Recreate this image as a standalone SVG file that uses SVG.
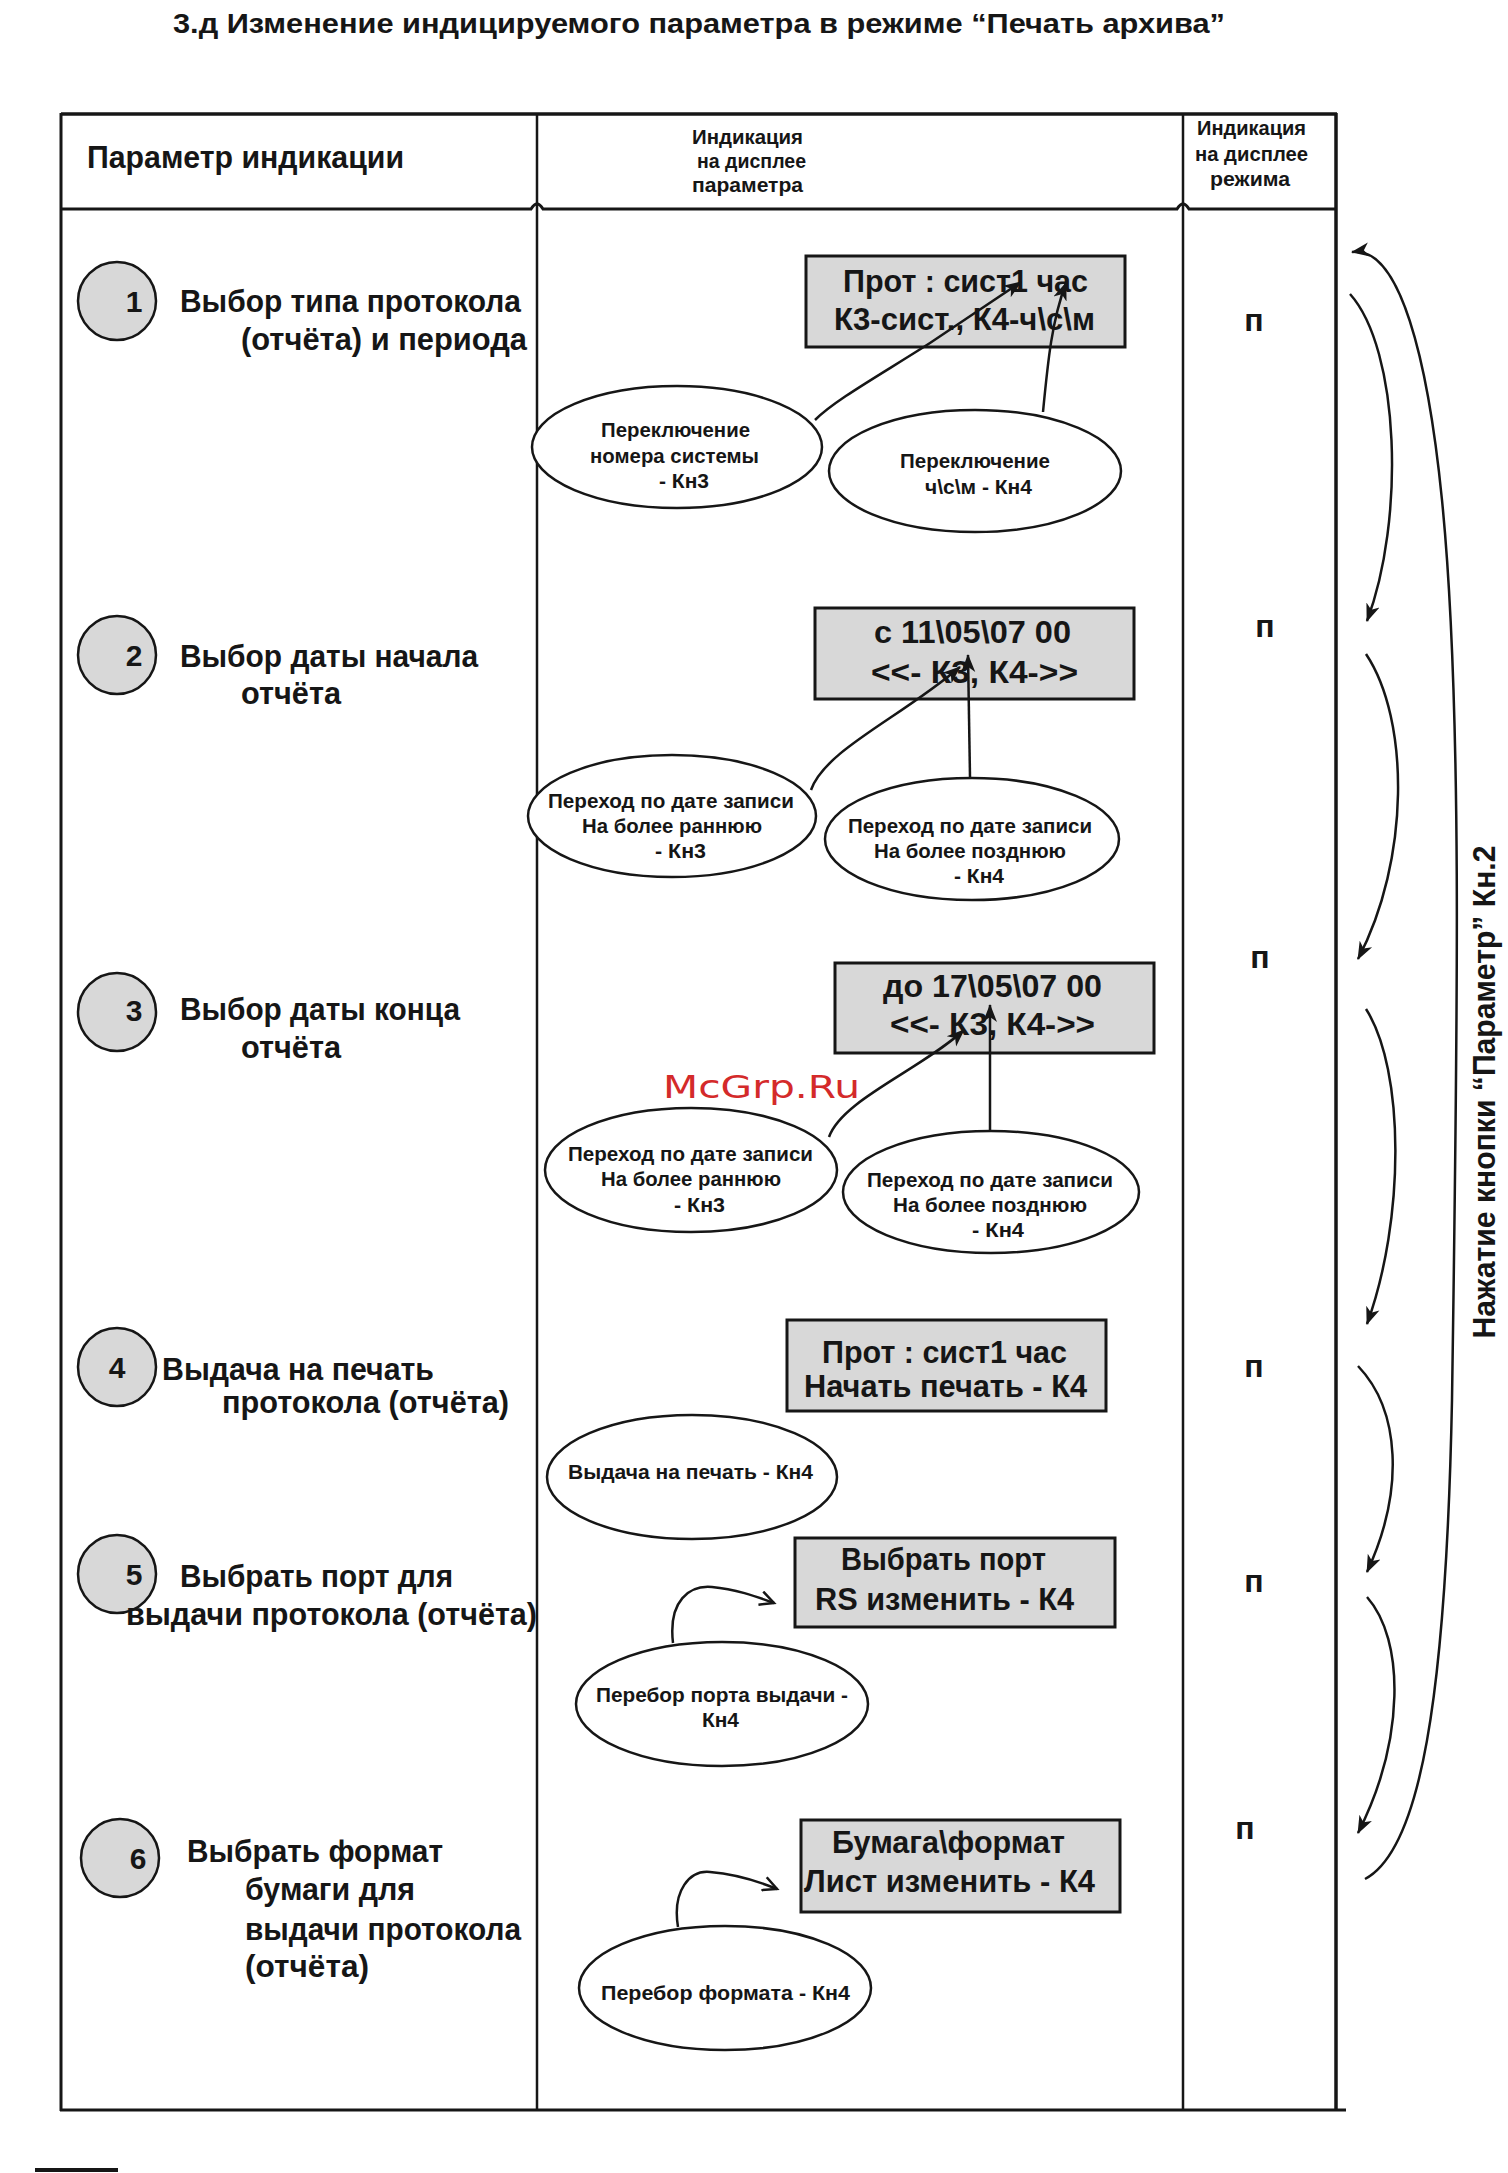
<svg xmlns="http://www.w3.org/2000/svg" width="1508" height="2173" viewBox="0 0 1508 2173">
<style>
.t{font-family:"Liberation Sans",Arial,sans-serif;fill:#161616;font-weight:bold}
.big{font-size:32px}
.hdr{font-size:21px}
.box{font-size:31px}
.ell{font-size:21px}
.num{font-size:30px}
.mode{font-size:32px}
.wm{font-family:"DejaVu Sans",sans-serif;font-size:32px;fill:#d42a2a}
.frame{stroke:#161616;fill:none}
.disp{fill:#d8d8d8;stroke:#161616;stroke-width:3}
.oval{fill:#fff;stroke:#161616;stroke-width:2.5}
.badge{fill:#d8d8d8;stroke:#161616;stroke-width:2.5}
.conn{fill:none;stroke:#161616;stroke-width:2.5}
</style>
<defs>
<marker id="ah" markerUnits="userSpaceOnUse" markerWidth="20" markerHeight="16" refX="17" refY="8" orient="auto"><path d="M0,1 L18,8 L0,15 L5,8 Z" fill="#161616"/></marker>
<marker id="av" markerUnits="userSpaceOnUse" markerWidth="18" markerHeight="16" refX="15" refY="8" orient="auto"><path d="M1,1 L15,8 L1,15" fill="none" stroke="#161616" stroke-width="2.5"/></marker>
</defs>
<rect width="1508" height="2173" fill="#fff"/>

<text class="t" x="173" y="33" style="font-size:27px" textLength="1052" lengthAdjust="spacingAndGlyphs">3.д  Изменение индицируемого параметра в режиме “Печать архива”</text>

<g id="table">
<line class="frame" x1="61" y1="114" x2="1337" y2="114" stroke-width="3.5"/>
<line class="frame" x1="61" y1="113" x2="61" y2="2111" stroke-width="3"/>
<line class="frame" x1="537" y1="114" x2="537" y2="2110" stroke-width="2.5"/>
<line class="frame" x1="1183" y1="114" x2="1183" y2="2110" stroke-width="2.5"/>
<line class="frame" x1="1336" y1="113" x2="1336" y2="2110" stroke-width="3.5"/>
<path class="frame" d="M61,209 H531 q6,-10 12,0 H1177 q6,-10 12,0 H1336" stroke-width="3"/>
<line class="frame" x1="60" y1="2110" x2="1346" y2="2110" stroke-width="3"/>
<text class="t big" x="87" y="168" textLength="317" lengthAdjust="spacingAndGlyphs">Параметр индикации</text>
<text class="t hdr" x="692" y="144" textLength="111" lengthAdjust="spacingAndGlyphs">Индикация</text>
<text class="t hdr" x="697" y="168" textLength="109" lengthAdjust="spacingAndGlyphs">на дисплее</text>
<text class="t hdr" x="692" y="192" textLength="111" lengthAdjust="spacingAndGlyphs">параметра</text>
<text class="t hdr" x="1197" y="135" textLength="109" lengthAdjust="spacingAndGlyphs">Индикация</text>
<text class="t hdr" x="1195" y="161" textLength="113" lengthAdjust="spacingAndGlyphs">на дисплее</text>
<text class="t hdr" x="1210" y="186" textLength="80" lengthAdjust="spacingAndGlyphs">режима</text>
</g>

<g id="param1">
<circle class="badge" cx="117" cy="301" r="39"/>
<text class="t num" x="134" y="312" text-anchor="middle">1</text>
<text class="t big" x="180" y="312" textLength="341" lengthAdjust="spacingAndGlyphs">Выбор типа протокола</text>
<text class="t big" x="241" y="350" textLength="286" lengthAdjust="spacingAndGlyphs">(отчёта) и периода</text>
</g>
<g id="param2">
<circle class="badge" cx="117" cy="655" r="39"/>
<text class="t num" x="134" y="666" text-anchor="middle">2</text>
<text class="t big" x="180" y="667" textLength="298" lengthAdjust="spacingAndGlyphs">Выбор даты начала</text>
<text class="t big" x="241" y="704" textLength="100" lengthAdjust="spacingAndGlyphs">отчёта</text>
</g>
<g id="param3">
<circle class="badge" cx="117" cy="1012" r="39"/>
<text class="t num" x="134" y="1021" text-anchor="middle">3</text>
<text class="t big" x="180" y="1020" textLength="280" lengthAdjust="spacingAndGlyphs">Выбор даты конца</text>
<text class="t big" x="241" y="1058" textLength="100" lengthAdjust="spacingAndGlyphs">отчёта</text>
</g>
<g id="param4">
<circle class="badge" cx="117" cy="1367" r="39"/>
<text class="t num" x="117" y="1378" text-anchor="middle">4</text>
<text class="t big" x="162" y="1380" textLength="272" lengthAdjust="spacingAndGlyphs">Выдача на печать</text>
<text class="t big" x="222" y="1413" textLength="287" lengthAdjust="spacingAndGlyphs">протокола (отчёта)</text>
</g>
<g id="param5">
<circle class="badge" cx="117" cy="1574" r="39"/>
<text class="t num" x="134" y="1585" text-anchor="middle">5</text>
<text class="t big" x="180" y="1587" textLength="273" lengthAdjust="spacingAndGlyphs">Выбрать порт для</text>
<text class="t big" x="126" y="1625" textLength="411" lengthAdjust="spacingAndGlyphs">выдачи протокола (отчёта)</text>
</g>
<g id="param6">
<circle class="badge" cx="120" cy="1858" r="39"/>
<text class="t num" x="138" y="1869" text-anchor="middle">6</text>
<text class="t big" x="187" y="1862" textLength="256" lengthAdjust="spacingAndGlyphs">Выбрать формат</text>
<text class="t big" x="245" y="1900" textLength="170" lengthAdjust="spacingAndGlyphs">бумаги для</text>
<text class="t big" x="245" y="1940" textLength="276" lengthAdjust="spacingAndGlyphs">выдачи протокола</text>
<text class="t big" x="245" y="1977" textLength="124" lengthAdjust="spacingAndGlyphs">(отчёта)</text>
</g>

<g id="display1">
<rect class="disp" x="806" y="256" width="319" height="91"/>
<text class="t box" x="843" y="292" textLength="245" lengthAdjust="spacingAndGlyphs">Прот : сист1 час</text>
<text class="t box" x="834" y="330" textLength="261" lengthAdjust="spacingAndGlyphs">К3-сист., К4-ч\с\м</text>
</g>
<g id="display2">
<rect class="disp" x="815" y="608" width="319" height="91"/>
<text class="t box" x="874" y="643" textLength="197" lengthAdjust="spacingAndGlyphs">с 11\05\07 00</text>
<text class="t box" x="871" y="683" textLength="207" lengthAdjust="spacingAndGlyphs">&lt;&lt;- К3, К4-&gt;&gt;</text>
</g>
<g id="display3">
<rect class="disp" x="835" y="963" width="319" height="90"/>
<text class="t box" x="883" y="997" textLength="219" lengthAdjust="spacingAndGlyphs">до 17\05\07 00</text>
<text class="t box" x="890" y="1035" textLength="205" lengthAdjust="spacingAndGlyphs">&lt;&lt;- К3, К4-&gt;&gt;</text>
</g>
<g id="display4">
<rect class="disp" x="787" y="1320" width="319" height="91"/>
<text class="t box" x="822" y="1363" textLength="245" lengthAdjust="spacingAndGlyphs">Прот : сист1 час</text>
<text class="t box" x="804" y="1397" textLength="283" lengthAdjust="spacingAndGlyphs">Начать печать - К4</text>
</g>
<g id="display5">
<rect class="disp" x="795" y="1538" width="320" height="89"/>
<text class="t box" x="841" y="1570" textLength="205" lengthAdjust="spacingAndGlyphs">Выбрать порт</text>
<text class="t box" x="815" y="1610" textLength="259" lengthAdjust="spacingAndGlyphs">RS изменить - К4</text>
</g>
<g id="display6">
<rect class="disp" x="801" y="1820" width="319" height="92"/>
<text class="t box" x="832" y="1853" textLength="233" lengthAdjust="spacingAndGlyphs">Бумага\формат</text>
<text class="t box" x="804" y="1892" textLength="291" lengthAdjust="spacingAndGlyphs">Лист  изменить - К4</text>
</g>

<g id="key1a">
<ellipse class="oval" cx="677" cy="447" rx="145" ry="61"/>
<text class="t ell" x="601" y="437" textLength="149" lengthAdjust="spacingAndGlyphs">Переключение</text>
<text class="t ell" x="590" y="463" textLength="169" lengthAdjust="spacingAndGlyphs">номера системы</text>
<text class="t ell" x="659" y="488" textLength="50" lengthAdjust="spacingAndGlyphs">- Кн3</text>
</g>
<g id="key1b">
<ellipse class="oval" cx="975" cy="471" rx="146" ry="61"/>
<text class="t ell" x="900" y="468" textLength="150" lengthAdjust="spacingAndGlyphs">Переключение</text>
<text class="t ell" x="925" y="494" textLength="107" lengthAdjust="spacingAndGlyphs">ч\с\м  - Кн4</text>
</g>
<g id="key2a">
<ellipse class="oval" cx="672" cy="816" rx="144" ry="61"/>
<text class="t ell" x="548" y="808" textLength="246" lengthAdjust="spacingAndGlyphs">Переход по дате записи</text>
<text class="t ell" x="582" y="833" textLength="180" lengthAdjust="spacingAndGlyphs">На более раннюю</text>
<text class="t ell" x="655" y="858" textLength="51" lengthAdjust="spacingAndGlyphs">- Кн3</text>
</g>
<g id="key2b">
<ellipse class="oval" cx="972" cy="839" rx="147" ry="61"/>
<text class="t ell" x="848" y="833" textLength="244" lengthAdjust="spacingAndGlyphs">Переход по дате записи</text>
<text class="t ell" x="874" y="858" textLength="192" lengthAdjust="spacingAndGlyphs">На более позднюю</text>
<text class="t ell" x="954" y="883" textLength="50" lengthAdjust="spacingAndGlyphs">- Кн4</text>
</g>
<g id="key3a">
<ellipse class="oval" cx="691" cy="1170" rx="146" ry="62"/>
<text class="t ell" x="568" y="1161" textLength="245" lengthAdjust="spacingAndGlyphs">Переход по дате записи</text>
<text class="t ell" x="601" y="1186" textLength="180" lengthAdjust="spacingAndGlyphs">На более раннюю</text>
<text class="t ell" x="674" y="1212" textLength="51" lengthAdjust="spacingAndGlyphs">- Кн3</text>
</g>
<g id="key3b">
<ellipse class="oval" cx="991" cy="1192" rx="148" ry="61"/>
<text class="t ell" x="867" y="1187" textLength="246" lengthAdjust="spacingAndGlyphs">Переход по дате записи</text>
<text class="t ell" x="893" y="1212" textLength="194" lengthAdjust="spacingAndGlyphs">На более позднюю</text>
<text class="t ell" x="972" y="1237" textLength="52" lengthAdjust="spacingAndGlyphs">- Кн4</text>
</g>
<g id="key4">
<ellipse class="oval" cx="692" cy="1477" rx="145" ry="62"/>
<text class="t ell" x="568" y="1479" textLength="245" lengthAdjust="spacingAndGlyphs">Выдача на печать  - Кн4</text>
</g>
<g id="key5">
<ellipse class="oval" cx="722" cy="1704" rx="146" ry="62"/>
<text class="t ell" x="596" y="1702" textLength="252" lengthAdjust="spacingAndGlyphs">Перебор порта выдачи  -</text>
<text class="t ell" x="702" y="1727" textLength="37" lengthAdjust="spacingAndGlyphs">Кн4</text>
</g>
<g id="key6">
<ellipse class="oval" cx="725" cy="1988" rx="146" ry="62"/>
<text class="t ell" x="601" y="2000" textLength="249" lengthAdjust="spacingAndGlyphs">Перебор формата  - Кн4</text>
</g>

<g id="modes">
<text class="t mode" x="1254" y="331" text-anchor="middle">п</text>
<text class="t mode" x="1265" y="637" text-anchor="middle">п</text>
<text class="t mode" x="1260" y="968" text-anchor="middle">п</text>
<text class="t mode" x="1254" y="1377" text-anchor="middle">п</text>
<text class="t mode" x="1254" y="1592" text-anchor="middle">п</text>
<text class="t mode" x="1245" y="1839" text-anchor="middle">п</text>
</g>

<g id="connectors">
<path class="conn" d="M815,420 C835,400 880,375 930,343 L1021,282" marker-end="url(#ah)"/>
<path class="conn" d="M1043,412 C1048,360 1052,320 1066,283" marker-end="url(#ah)"/>
<path class="conn" d="M811,790 C825,750 900,718 960,667" marker-end="url(#ah)"/>
<path class="conn" d="M970,777 L968,655" marker-end="url(#ah)"/>
<path class="conn" d="M829,1137 C842,1100 920,1070 964,1030" marker-end="url(#ah)"/>
<path class="conn" d="M990,1130 L990,1005" marker-end="url(#ah)"/>
<path class="conn" d="M673,1643 C668,1600 690,1585 712,1587 C735,1589 755,1596 774,1603" marker-end="url(#av)"/>
<path class="conn" d="M678,1927 C672,1890 690,1870 710,1872 C735,1874 760,1882 777,1889" marker-end="url(#av)"/>
<path class="conn" d="M1350,294 C1400,350 1405,520 1367,621" marker-end="url(#ah)"/>
<path class="conn" d="M1366,654 C1410,720 1410,860 1358,959" marker-end="url(#ah)"/>
<path class="conn" d="M1366,1009 C1405,1070 1405,1220 1367,1324" marker-end="url(#ah)"/>
<path class="conn" d="M1358,1366 C1400,1410 1405,1490 1367,1572" marker-end="url(#ah)"/>
<path class="conn" d="M1367,1597 C1405,1640 1405,1740 1358,1833" marker-end="url(#ah)"/>
<path class="conn" d="M1365,1879 C1420,1850 1446,1700 1452,1400 C1458,1000 1462,700 1442,500 C1428,360 1400,245 1352,252" marker-end="url(#ah)"/>
</g>

<text class="t big" transform="translate(1495,1092) rotate(-90)" text-anchor="middle" textLength="493" lengthAdjust="spacingAndGlyphs">Нажатие кнопки “Параметр” Кн.2</text>
<text class="wm" x="663" y="1098" textLength="197" lengthAdjust="spacingAndGlyphs">McGrp.Ru</text>
<line x1="35" y1="2170" x2="118" y2="2170" stroke="#161616" stroke-width="4"/>
</svg>
